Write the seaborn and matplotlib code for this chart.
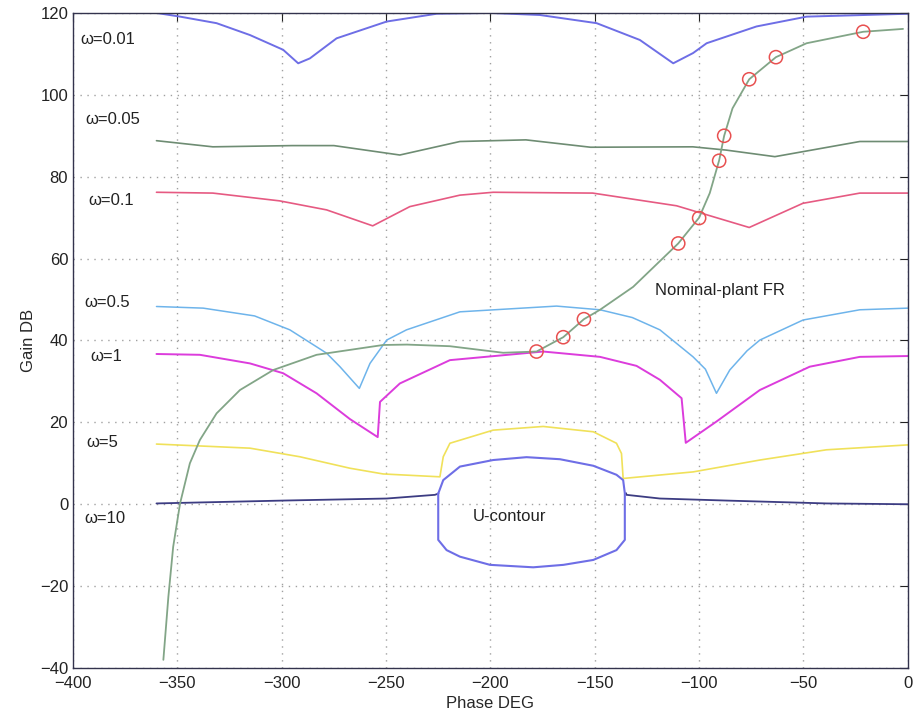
import numpy as np
import pandas as pd
import matplotlib
matplotlib.use("Agg")
import matplotlib.pyplot as plt
import seaborn as sns

# bounds, (phase deg, gain dB)
w001_ph = [-360, -348.7, -331.2, -315.2, -299.3, -292.1, -286.5, -273.7, -249.7, -225.8,
           -200.2, -176.3, -149.1, -128.4, -112.4, -102.9, -96.4, -72.5, -48.5, 0]
w001_db = [120, 119.1, 117.5, 114.6, 111, 107.7, 108.9, 113.8, 117.9, 119.8,
           120, 119.5, 117.5, 113.4, 107.7, 110.2, 112.6, 116.7, 119.1, 119.8]

w005_ph = [-360, -333, -295, -275, -243.4, -214.6, -183, -152, -103, -87, -63.7, -23, 0]
w005_db = [88.8, 87.3, 87.6, 87.6, 85.3, 88.6, 89, 87.2, 87.3, 86.5, 84.9, 88.6, 88.6]

w01_ph = [-360, -333, -301, -278.5, -256.4, -238.6, -214.6, -198.7, -151, -110.8, -76, -50.3, -23, 0]
w01_db = [76.2, 76, 74.1, 71.9, 68, 72.7, 75.5, 76.2, 76, 72.9, 67.6, 73.5, 76, 76]

w05_ph = [-360, -337.6, -313, -296.1, -278.5, -272.1, -262.8, -257.7, -249.7, -240.2, -214.6,
          -168.3, -147.5, -132, -118.8, -102.9, -97, -91.7, -85.3, -77, -70.9, -50.2, -23, 0]
w05_db = [48.3, 47.9, 46, 42.6, 36.9, 33.6, 28.3, 34.4, 40.1, 42.6, 47,
          48.4, 47.5, 45.6, 42.6, 36, 33, 27.1, 32.8, 37.5, 40.1, 45, 47.5, 47.9]

w1_ph = [-360, -339.2, -315.2, -299.3, -283.3, -267.3, -254, -252.9, -243.4, -219.4, -174.7,
         -147.5, -130, -118.8, -108.4, -106.4, -91.7, -70.9, -47, -23, 0]
w1_db = [36.7, 36.5, 34.4, 32, 27.1, 20.8, 16.4, 25, 29.5, 35.2, 37.3,
         36, 33.8, 30.4, 25.9, 15, 20.2, 27.9, 33.6, 36, 36.2]

w5_ph = [-360, -315.2, -291.3, -267.3, -251.4, -224.2, -222.6, -219.4, -198.7, -174.7, -150.7,
         -139.6, -137.2, -136.4, -102.9, -70.9, -39, 0]
w5_db = [14.7, 13.7, 11.6, 8.8, 7.4, 6.7, 11.6, 14.9, 18.1, 19, 17.7,
         14.9, 12.4, 6.3, 7.9, 10.8, 13.3, 14.5]

w10_left_ph = [-360, -299.3, -249.7, -226.6, -225]
w10_left_db = [0.2, 0.9, 1.4, 2.3, 2.6]
w10_right_ph = [-135, -134.8, -118.8, -86.9, -38.9, 0]
w10_right_db = [2.7, 2.3, 1.4, 0.9, 0.2, 0]

u_ph = [-225, -222.6, -214.6, -198.7, -182.7, -166.7, -150.7, -139.6, -136.4, -135.6, -135.6,
        -139.6, -150.7, -165, -179.5, -200.2, -214.6, -221, -225, -225]
u_db = [2.6, 5.9, 9.2, 10.8, 11.5, 11, 9.4, 7.2, 5.9, 2.7, -8.7,
        -11.2, -13.6, -14.8, -15.4, -14.8, -12.8, -11.2, -8.7, 2.6]

# nominal plant frequency response
nom_ph = [-356.7, -354.3, -352, -348.7, -344, -339.2, -331.2, -320, -304, -283.3, -251.4, -240,
          -219.4, -193.9, -177.9, -165.1, -155.2, -147.5, -131.6, -110, -100, -94.9, -90.4, -88,
          -84, -76, -63.2, -48.5, -21.4, -2.3]
nom_db = [-38, -22.6, -10.4, 0.2, 10, 15.7, 22.2, 27.9, 32.8, 36.5, 38.9, 39,
          38.6, 37, 37.3, 40.8, 45.2, 47.5, 53.1, 63.7, 70, 76, 84, 90,
          96.7, 103.8, 109.2, 112.6, 115.4, 116.1]
mark_ph = [-177.9, -165.1, -155.2, -110, -100, -90.4, -88, -76, -63.2, -21.4]
mark_db = [37.3, 40.8, 45.2, 63.7, 69.9, 83.9, 90, 103.8, 109.2, 115.4]

labels = ["ω=0.01", "ω=0.05", "ω=0.1", "ω=0.5", "ω=1", "ω=5", "ω=10"]
label_x = [-396.6, -394.3, -392.8, -394.7, -391.9, -393.8, -394.7]
label_y = [113.4, 93.9, 74.3, 49.2, 36, 15, -3.4]

sns.set_style("white")
plt.rcParams['font.family'] = ['Liberation Sans', 'DejaVu Sans']

fig = plt.figure(figsize=(9.17, 7.19), dpi=100)
ax = fig.add_axes([0.0796, 0.0709, 0.9104, 0.9111])

curves = [
    (w001_ph, w001_db, '#6e6ee6', 1.4),
    (w005_ph, w005_db, '#6e8c73', 1.2),
    (w01_ph, w01_db, '#e65a82', 1.2),
    (w05_ph, w05_db, '#6eb4eb', 1.1),
    (w1_ph, w1_db, '#dc3cdc', 1.4),
    (w5_ph, w5_db, '#f0e15a', 1.2),
    (w10_left_ph, w10_left_db, '#3c3c82', 1.3),
    (w10_right_ph, w10_right_db, '#3c3c82', 1.3),
    (u_ph, u_db, '#6e6ee6', 1.5),
    (nom_ph, nom_db, '#82a587', 1.3),
]
for ph, db, c, lw in curves:
    sns.lineplot(x=ph, y=db, sort=False, estimator=None, color=c, lw=lw, ax=ax)

sns.scatterplot(x=mark_ph, y=mark_db, marker='o', s=90, facecolors='none',
                edgecolor='#e85050', linewidth=1.1, ax=ax, zorder=5)

for t, x, y in zip(labels, label_x, label_y):
    ax.text(x, y, t, fontsize=12, color='#222222', va='center', ha='left')
ax.text(-121.2, 52.1, "Nominal-plant FR", fontsize=12, color='#222222', va='center')
ax.text(-208.4, -2.9, "U-contour", fontsize=12, color='#222222', va='center')

ax.set_xlim(-400, 0)
ax.set_ylim(-40, 120)
ax.set_xticks(np.arange(-400, 1, 50))
ax.set_yticks(np.arange(-40, 121, 20))
ax.grid(True, linestyle=(0, (1, 4)), color='#a0a0a0', lw=1.0)
ax.tick_params(direction='in', top=True, right=True, length=6, labelsize=12, colors='#222222')
ax.tick_params(axis='x', pad=6)
for s in ax.spines.values():
    s.set_color('#33334d')
    s.set_linewidth(1.0)
ax.set_xlabel("Phase DEG", fontsize=12, labelpad=3)
ax.set_ylabel("Gain DB", fontsize=12, labelpad=3)

fig.savefig("out.png", dpi=100)
